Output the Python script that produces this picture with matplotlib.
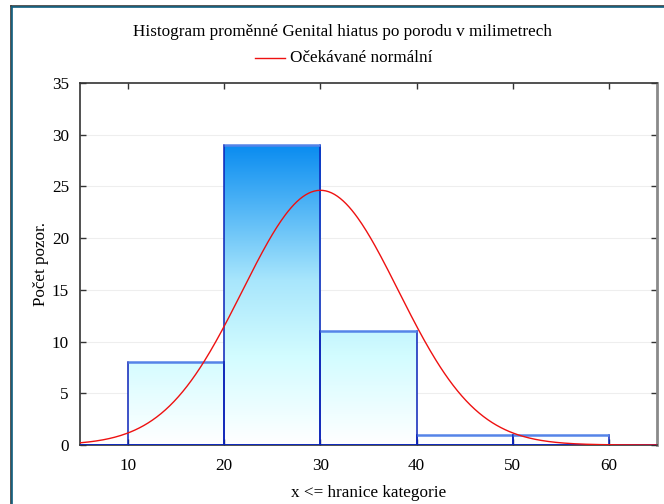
import numpy as np
import matplotlib
matplotlib.use("Agg")
import matplotlib.pyplot as plt
from matplotlib.colors import LinearSegmentedColormap
from matplotlib.lines import Line2D

# ---- data ----
bin_edges = [0, 10, 20, 30, 40, 50, 60, 70]
counts = [0, 8, 29, 11, 1, 1, 0]
norm_mean = 30.0
norm_sd = 8.1
n_obs = 50
bin_width = 10
xticks = [10, 20, 30, 40, 50, 60]
yticks = [0, 5, 10, 15, 20, 25, 30, 35]
title = "Histogram proměnné Genital hiatus po porodu v milimetrech"
legend_label = "Očekávané normální"
xlabel = "x <= hranice kategorie"
ylabel = "Počet pozor."

plt.rcParams['font.family'] = ['Liberation Serif', 'DejaVu Serif']
FS = 12.3

W, H = 664, 504
fig = plt.figure(figsize=(W / 100, H / 100), dpi=100)
L, R, T, B = 80, 657, 83, 445
ax = fig.add_axes([L / W, 1 - B / H, (R - L) / W, (B - T) / H])

cmap = LinearSegmentedColormap.from_list(
    "grad", [(0.0, "#ffffff"), (0.3, "#d2fcff"), (0.55, "#a8e6fc"),
             (0.8, "#4fb4f6"), (1.0, "#0a8cf0")])
vmax = max(counts)

for i, h in enumerate(counts):
    x0, x1 = bin_edges[i], bin_edges[i + 1]
    if h > 0:
        grad = np.linspace(0, h, 256).reshape(-1, 1)
        ax.imshow(grad, extent=(x0, x1, 0, h), origin='lower', cmap=cmap,
                  vmin=0, vmax=vmax, aspect='auto', zorder=1, interpolation='bilinear')
        ax.plot([x0, x0], [0, h], color="#0a22b8", lw=1.1, zorder=3)
        ax.plot([x1, x1], [0, h], color="#0a22b8", lw=1.1, zorder=3)
        ax.plot([x0, x1], [h, h], color="#5584e8", lw=1.8, zorder=3, solid_capstyle='butt')
    ax.plot([x0, x1], [0, 0], color="#0a28c8", lw=2.0, zorder=3, solid_capstyle='butt')

xs = np.linspace(5, 65, 400)
ys = n_obs * bin_width / (norm_sd * np.sqrt(2 * np.pi)) * np.exp(-0.5 * ((xs - norm_mean) / norm_sd) ** 2)
ax.plot(xs, ys, color="#ee1111", lw=1.0, zorder=4)

ax.set_xlim(5, 65)
ax.set_ylim(0, 35)
ax.set_xticks(xticks)
ax.set_yticks(yticks)
for y in yticks[1:-1]:
    ax.axhline(y, color="#eeeeee", lw=0.8, zorder=0)

ax.tick_params(direction='in', top=True, right=True, length=4, width=1,
               colors="#333333", labelcolor="black", labelsize=FS)
ax.tick_params(axis='x', pad=9)
ax.tick_params(axis='y', pad=8)
for s in ['left', 'bottom', 'top']:
    ax.spines[s].set_color("#333333")
    ax.spines[s].set_linewidth(1.2)
ax.spines['right'].set_color("#8a8a8a")
ax.spines['right'].set_linewidth(2.0)

ax.set_xlabel(xlabel, fontsize=FS, labelpad=8)
ax.set_ylabel(ylabel, fontsize=FS, labelpad=2)

# title and legend (figure pixel coordinates)
fig.text(342 / W, 1 - 32 / H, title, ha='center', va='center', fontsize=FS)
fig.add_artist(Line2D([255 / W, 285 / W], [1 - 58 / H, 1 - 58 / H], color="#ee1111", lw=1.0))
fig.text(290 / W, 1 - 58 / H, legend_label, ha='left', va='center', fontsize=FS)

# outer frame
fig.add_artist(Line2D([10.5 / W, 10.5 / W], [0, 1 - 5.5 / H], color="#3a3a3a", lw=1.2))
fig.add_artist(Line2D([10.5 / W, 1], [1 - 5.5 / H, 1 - 5.5 / H], color="#3a3a3a", lw=1.2))
fig.add_artist(Line2D([12 / W, 12 / W], [0, 1 - 7 / H], color="#0f5f80", lw=1.2))
fig.add_artist(Line2D([12 / W, 1], [1 - 7 / H, 1 - 7 / H], color="#0f5f80", lw=1.2))

fig.savefig("out.png", dpi=100)
